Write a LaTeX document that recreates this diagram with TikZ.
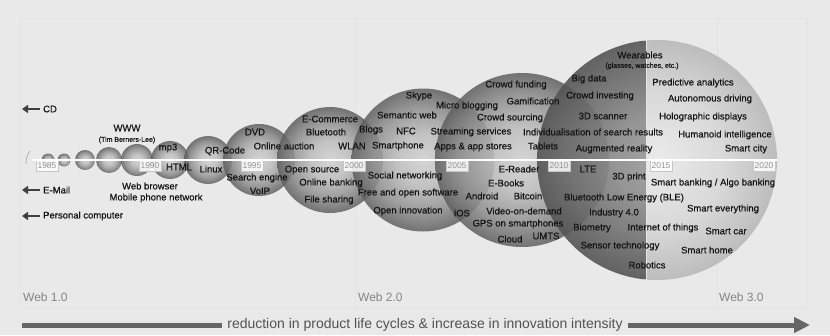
\documentclass[tikz,border=0pt]{standalone}
\usepackage{fontspec}
\setmainfont{Liberation Sans}
\newfontfamily\lblfont{Liberation Sans}[FakeBold=0.45]
\usetikzlibrary{arrows.meta}
\definecolor{bg}{gray}{0.915}
\definecolor{panelc}{gray}{0.89}
\definecolor{bAa}{gray}{0.82}
\definecolor{bAb}{gray}{0.74}
\definecolor{bAc}{gray}{0.56}
\definecolor{bAd}{gray}{0.37}
\definecolor{bLa}{gray}{0.62}
\definecolor{bLb}{gray}{0.55}
\definecolor{bLc}{gray}{0.43}
\definecolor{bLd}{gray}{0.33}
\definecolor{bRa}{gray}{0.92}
\definecolor{bRb}{gray}{0.85}
\definecolor{bRd}{gray}{0.74}
\definecolor{txtc}{gray}{0.08}
\definecolor{yrc}{gray}{0.58}
\definecolor{arrc}{gray}{0.25}
\definecolor{barc}{gray}{0.40}
\pgfdeclareradialshading{ballA}{\pgfpoint{0bp}{0bp}}{color(0bp)=(bAa); color(9bp)=(bAb); color(18bp)=(bAc); color(25bp)=(bAd); color(50bp)=(bAd)}
\pgfdeclareradialshading{bigL}{\pgfpoint{0bp}{0bp}}{color(0bp)=(bLa); color(9bp)=(bLb); color(18bp)=(bLc); color(25bp)=(bLd); color(50bp)=(bLd)}
\pgfdeclareradialshading{bigR}{\pgfpoint{0bp}{0bp}}{color(0bp)=(bRa); color(14bp)=(bRb); color(25bp)=(bRd); color(50bp)=(bRd)}
\tikzset{
  lbl/.style={font=\lblfont\fontsize{9.5}{11}\selectfont, text=txtc, inner sep=0pt},
  smalllbl/.style={font=\lblfont\fontsize{7}{8}\selectfont, text=txtc, inner sep=0pt},
  yr/.style={font=\fontsize{8.5}{9}\selectfont, text=yrc, draw=gray!45, line width=0.6pt, fill=white, fill opacity=0.85, text opacity=1, inner xsep=1.5pt, inner ysep=0pt, minimum height=11pt},
  weblbl/.style={font=\fontsize{12}{13}\selectfont, inner sep=0pt, anchor=west, text=black!48},
  panel/.style={draw=panelc, line width=0.6pt},
  larr/.style={draw=arrc, line width=2.6pt, -{Triangle[length=6pt,width=8pt]}, shorten <=3pt},
  bar/.style={draw=barc, line width=5pt},
  ball/.style={shading=ballA, fill opacity=0.85},
}
\begin{document}
\begin{tikzpicture}[x=1pt,y=-1pt]
\useasboundingbox (0,0) rectangle (830,335);
\fill[bg] (0,0) rectangle (830,335);
% panel
\draw[panel] (20,18) rectangle (807,307);
\draw[panel] (355,18) -- (355,307);
\draw[panel] (717,18) -- (717,307);
% circles
\shade[ball] (48,160) circle (6.5pt);
\shade[ball] (64,160) circle (6.5pt);
\shade[ball] (85,160) circle (10pt);
\shade[ball] (109,160) circle (13pt);
\shade[ball] (137,160) circle (16pt);
\shade[ball] (170,160) circle (19pt);
\shade[ball] (208,160) circle (24pt);
\shade[ball] (259,160) circle (36pt);
\shade[ball] (330,160) circle (53pt);
\shade[ball] (423,160) circle (71.5pt);
\shade[ball] (522,160) circle (87pt);
\begin{scope}
  \clip (530,30) rectangle (645.3,290);
  \shade[shading=bigL, fill opacity=0.9] (657,160) circle (120pt);
\end{scope}
\begin{scope}
  \clip (646.9,30) rectangle (790,290);
  \shade[shading=bigR] (657,160) circle (120pt);
\end{scope}
% axis break mark
\draw[gray!60, line width=0.8pt] (26,164) .. controls (26,158) and (28,153) .. (30,151);
% year boxes
\node[yr] (y1985) at (47,165.5) {1985};
\node[yr] (y1990) at (150,165.5) {1990};
\node[yr] (y1995) at (252,165.5) {1995};
\node[yr] (y2000) at (354,165.5) {2000};
\node[yr] (y2005) at (457,165.5) {2005};
\node[yr] (y2010) at (559,165.5) {2010};
\node[yr] (y2015) at (661,165.5) {2015};
\node[yr] (y2020) at (764,165.5) {2020};
% timeline
\coordinate (tl0) at (32,160);
\coordinate (tl1) at (777,160);
\draw[white, line width=2.6pt] (tl0) -- (tl1);
% left arrows
\node[lbl, anchor=west] (cd) at (43,109) {CD};
\node[lbl, anchor=west] (email) at (43,190) {E-Mail};
\node[lbl, anchor=west] (pc) at (43,216) {Personal computer};
\coordinate (cdtip) at (22,109);
\coordinate (emtip) at (22,190);
\coordinate (pctip) at (22,216);
\draw[larr] (cd) -- (cdtip);
\draw[larr] (email) -- (emtip);
\draw[larr] (pc) -- (pctip);
% labels
\node[lbl] (www) at (127,128) {WWW};
\node[smalllbl] (tbl) at (127,140) {(Tim Berners-Lee)};
\node[lbl] (mp3) at (168,148) {mp3};
\node[lbl] (html) at (179,167) {HTML};
\node[lbl] (qr) at (225,151) {QR-Code};
\node[lbl] (linux) at (211,169) {Linux};
\node[lbl] (webbr) at (150,186) {Web browser};
\node[lbl] (mpn) at (156,198) {Mobile phone network};
\node[lbl] (dvd) at (255,132) {DVD};
\node[lbl] (onauc) at (284,146) {Online auction};
\node[lbl] (ecom) at (330,119) {E-Commerce};
\node[lbl] (bt) at (326,132) {Bluetooth};
\node[lbl] (blogs) at (371,130) {Blogs};
\node[lbl] (wlan) at (352,146) {WLAN};
\node[lbl] (seng) at (257,178) {Search engine};
\node[lbl] (voip) at (260,191) {VoIP};
\node[lbl] (osrc) at (312,170) {Open source};
\node[lbl] (onbank) at (331,183) {Online banking};
\node[lbl] (fshare) at (329,200) {File sharing};
\node[lbl] (skype) at (419,96) {Skype};
\node[lbl] (semweb) at (407,115) {Semantic web};
\node[lbl] (micro) at (467,106) {Micro blogging};
\node[lbl] (nfc) at (406,131) {NFC};
\node[lbl] (sphone) at (398,146) {Smartphone};
\node[lbl] (stream) at (471,132) {Streaming services};
\node[lbl] (apps) at (473,147) {Apps \& app stores};
\node[lbl] (social) at (405,176) {Social networking};
\node[lbl] (foss) at (408,193) {Free and open software};
\node[lbl] (oinn) at (408,211) {Open innovation};
\node[lbl] (cfund) at (516,85) {Crowd funding};
\node[lbl] (gami) at (533,101) {Gamification};
\node[lbl] (csrc) at (510,118) {Crowd sourcing};
\node[lbl] (tabs) at (543,146) {Tablets};
\node[lbl] (indiv) at (593,132) {Individualisation of search results};
\node[lbl] (bigd) at (589,79) {Big data};
\node[lbl] (cinv) at (600,96) {Crowd investing};
\node[lbl] (scan) at (603,116) {3D scanner};
\node[lbl] (augr) at (614,149) {Augmented reality};
\node[lbl] (wear) at (640,55) {Wearables};
\node[smalllbl] (glass) at (642,66) {(glasses, watches, etc.)};
\node[lbl] (pred) at (693,83) {Predictive analytics};
\node[lbl] (auto) at (710,99) {Autonomous driving};
\node[lbl] (holo) at (703,117) {Holographic displays};
\node[lbl] (humi) at (725,135) {Humanoid intelligence};
\node[lbl] (scity) at (746,149) {Smart city};
\node[lbl] (erd) at (519,169) {E-Reader};
\node[lbl] (lte) at (588,169) {LTE};
\node[lbl] (ebk) at (506,183) {E-Books};
\node[lbl] (andr) at (482,196) {Android};
\node[lbl] (btc) at (528,196) {Bitcoin};
\node[lbl] (ios) at (462,213) {iOS};
\node[lbl] (vod) at (524,211) {Video-on-demand};
\node[lbl] (gps) at (518,224) {GPS on smartphones};
\node[lbl] (cloud) at (510,239) {Cloud};
\node[lbl] (umts) at (546,236) {UMTS};
\node[lbl] (print) at (629,177) {3D print};
\node[lbl] (sbank) at (713,183) {Smart banking / Algo banking};
\node[lbl] (ble) at (624,198) {Bluetooth Low Energy (BLE)};
\node[lbl] (severy) at (723,209) {Smart everything};
\node[lbl] (ind) at (614,213) {Industry 4.0};
\node[lbl] (bio) at (592,228) {Biometry};
\node[lbl] (iot) at (663,228) {Internet of things};
\node[lbl] (scar) at (726,231) {Smart car};
\node[lbl] (sens) at (620,246) {Sensor technology};
\node[lbl] (shome) at (707,250) {Smart home};
\node[lbl] (robo) at (647,265) {Robotics};
% web labels
\node[weblbl] (w1) at (23,297) {Web 1.0};
\node[weblbl] (w2) at (358,297) {Web 2.0};
\node[weblbl] (w3) at (719,297) {Web 3.0};
% bottom arrow
\node[font=\fontsize{14}{15}\selectfont, text=black!68, inner xsep=5pt, inner ysep=0pt] (rtxt) at (425,325) {reduction in product life cycles \& increase in innovation intensity};
\coordinate (b0) at (22,325);
\coordinate (b1) at (810,325);
\draw[bar] (b0) -- (rtxt.west);
\draw[bar, -{Triangle[length=16pt,width=15pt]}] (rtxt.east) -- (b1);
\end{tikzpicture}
\end{document}
